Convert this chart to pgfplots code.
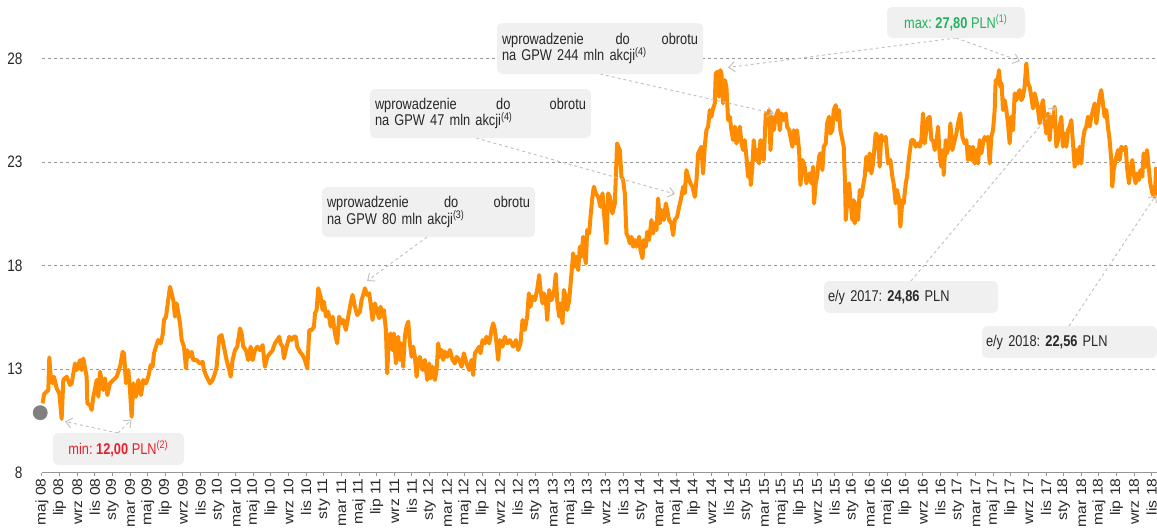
\documentclass[border=0pt]{standalone}
\usepackage{pgfplots}
\pgfplotsset{compat=1.18}
\usetikzlibrary{arrows.meta}
\usepackage{fontspec}
\setmainfont{Liberation Sans}
\newfontfamily\narrowfont[FakeStretch=0.82]{Liberation Sans}
\newfontfamily\monthfont[FakeStretch=1.12]{Liberation Sans}
\newcommand\boxfont{\narrowfont\fontsize{7.8}{8.4}\selectfont\frenchspacing
  \spaceskip=0.23em plus 0.05em minus 0.02em\relax}

\definecolor{lineorange}{RGB}{255,140,0}
\definecolor{gridgrey}{RGB}{150,150,150}
\definecolor{boxgrey}{RGB}{240,240,240}
\definecolor{arrowgrey}{RGB}{195,195,195}
\definecolor{minred}{RGB}{232,32,44}
\definecolor{maxgreen}{RGB}{34,177,92}
\definecolor{dotgrey}{RGB}{128,128,128}
\definecolor{txt}{RGB}{40,40,40}

\begin{document}
\begin{tikzpicture}
\begin{axis}[
    name=ax,
    scale only axis,
    width=557.5pt, height=236.35pt,
    xmin=0, xmax=126.6,
    ymin=8, ymax=30.84,
    clip=false,
    axis lines*=left,
    x axis line style={gridgrey, line width=0.6pt},
    y axis line style={draw=none},
    ytick={8,13,18,23,28},
    ymajorgrids,
    major grid style={gridgrey, line width=0.5pt, dash pattern=on 1.5pt off 1.5pt},
    ytick style={draw=none},
    y tick label style={font=\narrowfont\fontsize{8.3}{9}\selectfont, text=txt, xshift=-4.5pt,
        /pgf/number format/assume math mode=true},
    xtick={0,2,...,126},
    xticklabels={maj 08,lip 08,wrz 08,lis 08,
        sty 09,mar 09,maj 09,lip 09,wrz 09,lis 09,
        sty 10,mar 10,maj 10,lip 10,wrz 10,lis 10,
        sty 11,mar 11,maj 11,lip 11,wrz 11,lis 11,
        sty 12,mar 12,maj 12,lip 12,wrz 12,lis 12,
        sty 13,mar 13,maj 13,lip 13,wrz 13,lis 13,
        sty 14,mar 14,maj 14,lip 14,wrz 14,lis 14,
        sty 15,mar 15,maj 15,lip 15,wrz 15,lis 15,
        sty 16,mar 16,maj 16,lip 16,wrz 16,lis 16,
        sty 17,mar 17,maj 17,lip 17,wrz 17,lis 17,
        sty 18,mar 18,maj 18,lip 18,wrz 18,lis 18},
    x tick label style={rotate=90, anchor=east, font=\monthfont\fontsize{7}{8}\selectfont, text=txt, inner sep=1pt},
    xtick style={gridgrey, line width=0.5pt},
    tick align=outside,
    major tick length=1.7pt,
]
\addplot[lineorange, line width=2pt, line join=round] coordinates {
(0.08,11.35)(0.23,11.8)(0.72,12.0)(0.83,13.57)(0.99,12.64)(1.21,12.32)(1.36,12.64)(1.67,12.07)(1.97,11.83)(2.23,10.6)
(2.42,12.48)(2.8,12.64)(3.18,12.24)(3.37,12.32)(3.75,13.28)(3.94,12.96)(4.32,13.44)(4.5,12.96)(4.69,13.52)(5.07,12.64)
(5.15,11.35)(5.45,11.27)(5.64,11.03)(5.83,11.67)(6.21,12.48)(6.4,11.67)(6.58,12.88)(6.77,12.48)(6.96,12.0)(7.15,12.56)
(7.42,11.75)(7.72,12.32)(8.1,12.48)(8.48,12.64)(8.86,13.12)(9.16,13.84)(9.31,13.76)(9.54,12.32)(9.8,12.96)(9.99,12.0)
(10.18,10.7)(10.37,12.32)(10.67,11.67)(10.94,12.48)(11.24,11.75)(11.5,12.48)(11.81,12.32)(12.07,12.64)(12.34,13.2)(12.56,13.12)
(12.71,13.76)(12.94,14.09)(13.2,14.41)(13.47,14.25)(13.7,14.65)(13.85,15.37)(14.08,15.54)(14.23,16.02)(14.53,16.98)(14.72,16.66)
(14.91,16.34)(15.1,15.54)(15.29,16.18)(15.48,15.7)(15.67,15.21)(15.86,14.41)(16.12,14.09)(16.35,13.04)(16.5,13.92)(16.72,13.6)
(16.99,13.84)(17.18,13.44)(17.56,13.44)(17.94,13.28)(18.24,13.36)(18.39,12.96)(18.69,12.64)(19.07,12.32)(19.37,12.48)(19.64,12.8)
(19.83,13.12)(20.13,14.57)(20.4,14.65)(20.58,14.25)(20.96,13.44)(21.27,12.96)(21.42,12.64)(21.64,13.44)(21.91,13.92)(22.17,14.09)
(22.48,14.97)(22.67,14.73)(22.85,14.09)(23.16,13.92)(23.42,13.44)(23.69,14.09)(23.91,13.44)(24.18,13.92)(24.44,14.09)(24.75,13.92)
(25.05,14.17)(25.31,13.12)(25.58,13.6)(25.88,13.76)(26.18,13.92)(26.45,14.25)(26.71,14.41)(26.94,14.57)(27.09,14.25)(27.32,14.09)
(27.47,13.52)(27.77,14.09)(28.08,14.57)(28.34,14.41)(28.61,14.57)(28.83,14.57)(28.98,14.09)(29.29,13.84)(29.59,13.68)(29.85,13.44)
(30.12,13.04)(30.35,14.89)(30.61,14.89)(30.88,15.05)(30.99,15.7)(31.18,15.86)
(31.37,16.91)(31.63,16.5)(31.86,15.86)(32.01,16.26)(32.24,15.54)(32.5,15.78)(32.77,15.06)(33.0,15.54)(33.26,14.73)(33.52,14.25)
(33.75,15.54)(34.01,15.22)(34.2,15.38)(34.5,14.9)(34.77,15.54)(35.04,16.18)(35.26,16.59)(35.53,16.02)(35.79,15.62)(36.1,15.78)
(36.28,16.34)(36.47,16.59)(36.66,16.91)(36.93,16.59)(37.15,16.67)(37.31,16.18)(37.53,15.38)(37.8,16.18)(37.99,15.86)(38.29,15.46)
(38.44,16.02)(38.67,15.54)(38.82,15.86)(39.05,14.9)(39.2,12.8)(39.35,14.25)(39.58,14.73)(39.8,13.93)(39.95,14.73)(40.18,13.28)
(40.45,14.57)(40.64,13.45)(40.82,14.25)(41.01,13.12)(41.2,14.57)(41.39,15.06)(41.58,15.3)(41.77,14.25)(41.96,13.6)(42.15,14.09)
(42.34,13.6)(42.53,12.64)(42.72,13.28)(42.9,13.6)(43.21,12.96)(43.47,13.45)(43.74,12.48)(43.97,13.28)(44.12,12.56)(44.34,13.12)
(44.61,12.48)(44.8,12.96)(44.99,14.25)(45.18,13.6)(45.37,13.93)(45.55,13.45)(45.74,13.85)(46.01,13.6)(46.31,13.93)(46.61,13.45)
(46.88,13.28)(47.07,13.6)(47.37,13.45)(47.64,13.12)(47.9,13.77)(48.2,13.28)(48.51,12.96)(48.77,13.45)(48.96,12.72)(49.15,13.77)
(49.41,13.93)(49.64,14.09)(49.79,13.77)(50.02,14.41)(50.28,14.25)(50.47,14.57)(50.78,14.25)(51.04,14.9)(51.23,15.22)(51.42,14.9)
(51.61,14.25)(51.8,13.45)(51.99,14.41)(52.29,14.09)(52.55,14.57)(52.82,14.25)(53.12,14.41)(53.5,14.09)(53.8,14.41)(54.07,13.93)
(54.33,14.25)(54.56,15.38)(54.82,14.9)(55.09,15.54)(55.28,16.67)(55.47,16.02)(55.69,16.51)(55.96,16.34)(56.22,16.83)(56.45,17.55)
(56.6,16.83)(56.83,16.18)(56.98,16.67)(57.21,16.34)(57.36,15.38)(57.59,16.83)(57.85,16.34)(58.12,16.67)(58.34,17.6)(58.49,16.34)
(58.72,15.54)(58.87,16.18)(59.1,15.22)(59.25,16.83)(59.48,16.51)(59.63,15.86)(59.86,16.34)(60.12,17.63)(60.31,18.6)(60.5,17.95)
(60.69,18.44)(60.88,17.79)(61.07,18.92)(61.25,18.44)(61.44,19.4)(61.63,18.44)(61.75,18.11)(61.9,19.72)(62.13,19.56)(62.28,20.37)
(62.5,21.34)(62.66,21.82)
(62.88,21.5)(63.15,21.33)(63.41,20.85)(63.64,21.5)(63.9,20.05)(64.09,19.08)(64.28,21.5)(64.47,21.33)(64.77,20.53)(65.04,21.01)
(65.3,23.91)(65.42,23.75)(65.61,23.59)(65.79,22.3)(65.98,22.14)(66.17,21.5)(66.36,19.56)(66.55,19.4)(66.74,19.08)(66.93,19.4)
(67.12,18.92)(67.31,19.24)(67.5,18.92)(67.8,19.4)(67.95,18.76)(68.18,18.36)(68.33,19.24)(68.56,18.92)(68.71,19.64)(68.93,19.24)
(69.2,20.21)(69.39,19.56)(69.58,20.05)(69.77,19.72)(69.96,21.25)(70.15,20.05)(70.33,20.69)(70.6,20.21)(70.83,21.01)(70.98,20.69)
(71.2,20.21)(71.47,20.05)(71.66,19.48)(71.85,20.21)(72.11,20.37)(72.34,20.85)(72.6,21.33)(72.79,21.82)(72.98,21.5)(73.17,22.62)
(73.36,22.3)(73.63,21.98)(73.85,21.82)(74.12,21.33)(74.31,22.14)(74.5,23.43)(74.69,23.59)(74.87,23.75)(75.06,22.46)(75.25,23.75)
(75.44,24.55)(75.63,24.72)(75.82,25.52)(76.01,25.2)(76.2,25.6)(76.39,25.84)(76.5,27.29)(76.69,27.37)(76.88,26.17)(77.03,27.45)
(77.15,27.29)(77.33,25.84)(77.52,26.97)(77.71,26.65)(77.9,25.04)(78.09,25.2)(78.28,24.55)(78.47,24.07)(78.66,24.72)(78.85,23.91)
(79.04,24.23)(79.23,24.72)(79.42,23.91)(79.6,23.59)(79.79,24.07)(79.98,23.27)(80.17,22.3)(80.36,22.94)(80.47,21.9)(80.66,22.78)
(80.81,24.07)(81.04,23.11)(81.19,23.59)(81.42,22.94)(81.57,24.07)(81.8,23.75)(81.95,23.11)(82.18,25.36)(82.33,25.2)(82.56,25.52)
(82.71,23.59)(82.93,25.2)(83.09,24.55)(83.31,25.2)(83.58,25.52)(83.77,24.55)(83.96,25.36)(84.22,25.04)(84.45,25.36)(84.6,24.72)
(84.83,24.55)(84.98,24.23)(85.2,23.75)(85.36,24.55)(85.58,23.91)(85.73,24.55)(85.96,23.59)(86.11,21.9)(86.34,23.11)(86.6,22.78)
(86.79,21.98)(86.98,22.3)(87.17,22.46)(87.36,21.98)(87.55,22.78)(87.66,21.01)(87.85,21.98)(88.0,22.3)(88.23,23.27)(88.38,23.43)
(88.61,22.62)(88.76,23.75)(88.99,23.91)(89.14,24.88)(89.37,25.2)(89.52,24.39)(89.74,24.55)(89.89,25.52)(90.12,25.76)(90.27,25.04)
(90.5,25.52)(90.65,24.55)(90.88,24.07)(91.03,23.75)(91.18,21.98)(91.26,20.21)(91.41,21.01)(91.64,21.98)(91.79,21.17)(92.01,20.21)
(92.17,21.17)(92.28,20.05)(92.47,21.01)(92.66,20.21)(92.85,21.66)(93.04,21.33)(93.22,21.82)(93.41,22.3)(93.6,23.27)(93.79,22.62)
(93.98,23.43)
(94.17,22.46)(94.36,22.94)(94.66,24.39)(94.93,24.23)(95.11,22.78)(95.3,24.31)(95.57,24.07)(95.8,24.23)(96.06,22.94)(96.33,23.11)
(96.55,22.3)(96.7,21.98)(96.93,21.01)(97.08,21.66)(97.31,21.17)(97.46,19.89)(97.69,21.17)(97.84,21.01)(98.07,21.98)(98.22,22.3)
(98.45,23.27)(98.71,24.07)(98.97,24.07)(99.2,23.75)(99.47,23.91)(99.66,23.75)(99.84,24.07)(100.03,25.36)(100.22,23.91)(100.41,24.55)
(100.6,25.12)(100.79,25.2)(100.98,24.07)(101.17,24.07)(101.36,23.59)(101.55,23.91)(101.74,24.72)(101.93,23.27)(102.11,22.78)(102.3,23.59)
(102.38,22.38)(102.61,24.07)(102.76,23.43)(102.99,23.91)(103.14,24.88)(103.36,23.59)(103.63,24.07)(103.82,24.39)(104.01,24.88)(104.27,25.36)
(104.5,24.23)(104.76,23.91)(104.95,24.07)(105.14,23.11)(105.33,23.75)(105.52,23.11)(105.71,23.75)(105.9,22.94)(106.09,23.59)(106.28,22.94)
(106.47,24.07)(106.66,23.43)(106.84,23.91)(107.03,24.23)(107.22,24.07)(107.41,24.23)(107.6,22.94)(107.79,24.23)(107.98,24.55)(108.17,25.52)
(108.28,26.97)(108.47,26.81)(108.66,27.45)(108.81,26.65)(108.96,26.81)(109.11,25.52)(109.3,26.0)(109.49,25.52)(109.68,24.88)(109.87,23.91)
(110.06,25.2)(110.25,24.55)(110.44,26.33)(110.63,26.0)(110.82,26.33)(111.01,26.49)(111.2,26.0)(111.38,26.17)(111.57,26.65)(111.76,27.78)
(111.95,26.81)(112.14,26.65)(112.33,26.17)(112.52,25.6)(112.71,26.33)(112.9,26.0)(113.09,25.52)(113.28,24.88)(113.47,25.68)(113.66,26.0)
(113.84,25.04)(114.03,24.39)(114.22,25.36)(114.41,24.07)(114.6,25.2)(114.79,24.72)(114.98,25.68)(115.17,23.75)(115.36,24.07)(115.55,24.72)
(115.74,25.2)(115.92,23.75)(116.11,24.39)(116.3,23.75)(116.49,24.55)(116.68,24.72)(116.87,25.04)(117.06,23.91)(117.25,22.78)(117.44,23.59)
(117.63,22.94)(117.82,23.75)(118.0,22.94)(118.19,24.07)(118.38,24.55)(118.57,24.72)(118.76,25.2)(118.95,24.72)(119.14,25.2)(119.33,25.52)
(119.52,25.84)(119.71,24.88)(119.9,25.52)(120.09,26.17)(120.27,26.49)(120.46,25.84)(120.65,25.2)(120.84,25.52)(121.03,24.72)(121.22,24.07)
(121.41,23.11)(121.52,21.82)(121.68,22.62)(121.9,23.11)(122.17,23.59)(122.36,23.11)(122.55,23.75)(122.81,23.59)(123.04,23.75)(123.19,22.78)
(123.42,21.98)(123.57,22.62)(123.79,23.11)(123.95,22.46)(124.17,21.98)(124.33,22.46)(124.55,22.14)(124.71,22.62)(124.93,22.3)(125.08,23.43)
(125.31,22.78)(125.46,23.59)(125.69,22.62)(125.84,21.98)(126.07,21.5)(126.33,21.33)(126.52,22.78)
};
\addplot[only marks, mark=*, mark size=3.5pt, dotgrey] coordinates {(-0.2,10.9)};
\end{axis}

% annotations, placed in reference pixel units (origin top left)
\begin{scope}[x=0.5pt, y=-0.5pt, shift={(ax.south west)}, shift={(-42,-472.7)},
  box/.style={fill=boxgrey, rounded corners=2.5pt, inner ysep=0pt, anchor=center,
    font=\boxfont, text=txt},
  pointer/.style={arrowgrey, line width=0.5pt, dash pattern=on 1.5pt off 1.5pt,
    -{Straight Barb[length=3pt, width=5pt]}}]
  \draw[pointer] (118,433) -- (65,421.5);
  \draw[pointer] (118,433) -- (131.5,419.5);
  \draw[pointer] (427,237) -- (367,281);
  \draw[pointer] (476,138) -- (675,194);
  \draw[pointer] (600,74) -- (774,113.5);
  \draw[pointer] (956,38) -- (728,67.5);
  \draw[pointer] (956,38) -- (1020,61);
  \draw[pointer] (911,281) -- (1056,107);
  \draw[pointer] (1069,326) -- (1156,195);

  \node[box, minimum width=65.5pt, minimum height=16pt, inner xsep=0pt, text=minred]
    at (118.5,449) {min: \textbf{12,00} PLN\textsuperscript{(2)}};
  \node[box, minimum width=69pt, minimum height=15.5pt, inner xsep=0pt, text=maxgreen]
    at (956,22.5) {max: \textbf{27,80} PLN\textsuperscript{(1)}};
  \node[box, text width=101.5pt, inner xsep=2.5pt, minimum height=25pt, align=left]
    at (428.5,212) {wprowadzenie\hfill do\hfill obrotu\\na GPW 80 mln akcji\textsuperscript{(3)}};
  \node[box, text width=105.5pt, inner xsep=2.5pt, minimum height=24.5pt, align=left]
    at (480.5,113.5) {wprowadzenie\hfill do\hfill obrotu\\na GPW 47 mln akcji\textsuperscript{(4)}};
  \node[box, text width=98pt, inner xsep=2.5pt, minimum height=25.5pt, align=left]
    at (600,48.5) {wprowadzenie\hfill do\hfill obrotu\\na GPW 244 mln akcji\textsuperscript{(4)}};
  \node[box, text width=83pt, inner xsep=2pt, minimum height=16pt, align=left]
    at (911,297) {e/y 2017: \textbf{24,86} PLN};
  \node[box, text width=83.5pt, inner xsep=2pt, minimum height=16pt, align=left]
    at (1069.5,342) {e/y 2018: \textbf{22,56} PLN};
\end{scope}

\pgfresetboundingbox
\path[use as bounding box] ([shift={(-21pt,-27.15pt)}]ax.south west) rectangle (ax.north east);
\end{tikzpicture}
\end{document}
